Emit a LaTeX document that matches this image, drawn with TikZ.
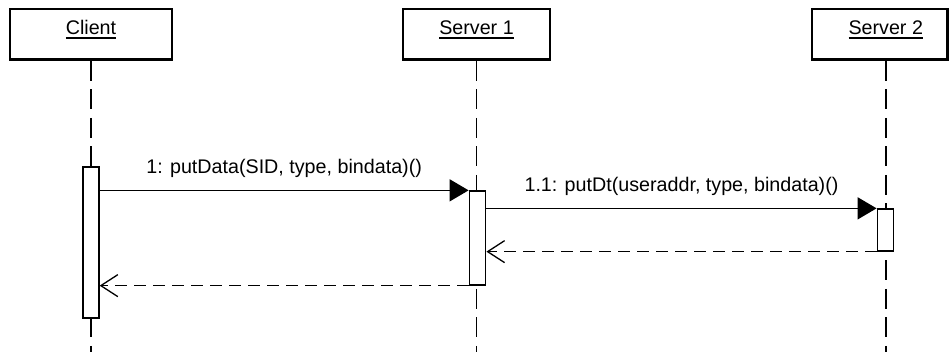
\documentclass[tikz,border=0pt]{standalone}
\usepackage{fontspec}
\setmainfont{Liberation Sans}
\usetikzlibrary{arrows.meta}
% object name with a plain rule underneath
\newcommand\lifelinename[1]{\setbox0=\hbox{#1}\rlap{\rule[-3.6pt]{\wd0}{1.2pt}}\box0}

\begin{document}
\begin{tikzpicture}[x=1pt,y=-1pt,
  every node/.style={font=\fontsize{19.7}{23}\selectfont},
  header/.style={draw, line width=2.7pt, inner sep=0pt, minimum height=50.5pt,
                 text height=14pt, text depth=12.5pt},
  activation/.style={draw, fill=white, line width=1.3pt, minimum width=16.5pt, inner sep=0pt},
  lifeline/.style={line width=1.3pt, dash pattern=on 20pt off 8.5pt},
  call/.style={line width=1.4pt, -{Triangle[length=19pt,width=22pt]}},
  reply/.style={line width=1.3pt, dash pattern=on 12pt off 7pt,
                -{Straight Barb[length=17pt,width=22pt]}},
  msglabel/.style={anchor=base, yshift=17pt, inner sep=0pt}]
\useasboundingbox (0,0) rectangle (949,352);

% object headers
\node[header, minimum width=162pt] (client) at (91,34.25) {\lifelinename{Client}};
\node[header, minimum width=147pt] (server1) at (476.5,34.25) {\lifelinename{Server 1}};
\node[header, minimum width=135.5pt] (server2) at (879.75,34.25) {\hspace*{12pt}\lifelinename{Server 2}};

\coordinate (bot) at (0,352);
\coordinate (s2x) at (886,0);

% lifelines
\draw[lifeline] (client.south) -- (client.south |- bot);
\draw[lifeline] (server1.south) -- (server1.south |- bot);
\draw[lifeline] (s2x |- server2.south) -- (s2x |- bot);

% activation bars
\node[activation, minimum width=16pt, minimum height=151pt] (ca) at (91,242.5) {};
\node[activation, minimum height=94pt] (sa) at (477.5,238) {};
\node[activation, minimum height=42pt] (s2a) at (885.5,230) {};

% messages
\draw[call] (ca.east |- sa.north) -- node[msglabel] {1: putData(SID, type, bindata)()} (sa.north west);
\draw[call] (sa.east |- s2a.north) -- node[msglabel] {1.1: putDt(useraddr, type, bindata)()} (s2a.north west);
\draw[reply] (s2a.south west) -- (sa.east |- s2a.south);
\draw[reply] (sa.south west) -- (ca.east |- sa.south);
\end{tikzpicture}
\end{document}
